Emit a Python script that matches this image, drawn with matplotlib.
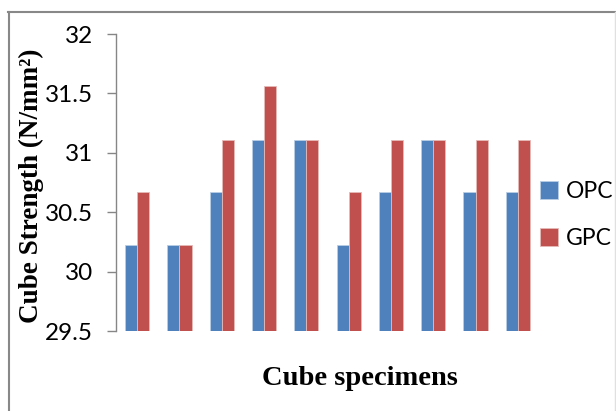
import matplotlib
matplotlib.use("Agg")
import matplotlib.pyplot as plt
from matplotlib.lines import Line2D
import numpy as np

# compressive strength of each cube specimen (N/mm2)
specimens = ["1", "2", "3", "4", "5", "6", "7", "8", "9", "10"]
opc = [30.22, 30.22, 30.67, 31.11, 31.11, 30.22, 30.67, 31.11, 30.67, 30.67]
gpc = [30.67, 30.22, 31.11, 31.56, 31.11, 30.67, 31.11, 31.11, 31.11, 31.11]
y_ticks = [29.5, 30, 30.5, 31, 31.5, 32]
y_tick_labels = ["29.5", "30", "30.5", "31", "31.5", "32"]

blue = "#4F81BD"
red = "#C0504D"

fig = plt.figure(figsize=(6.16, 4.11), dpi=100)
ax = fig.add_axes([116 / 616, 80 / 411, 423 / 616, 297 / 411])

x = np.arange(len(specimens))
w = 1 / 3.5  # excel style gap width 150%
ax.bar(x - w / 2, opc, width=w, color=blue, edgecolor="#B9CDE5", linewidth=0.6, label="OPC")
ax.bar(x + w / 2, gpc, width=w, color=red, edgecolor="#E6B9B8", linewidth=0.6, label="GPC")

ax.set_xlim(-0.5, len(specimens) - 0.5)
ax.set_ylim(29.5, 32)
ax.set_yticks(y_ticks)
ax.set_yticklabels(y_tick_labels, fontfamily="Lato", fontsize=17.5)
ax.set_xticks([])

for s in ["top", "right", "bottom"]:
    ax.spines[s].set_visible(False)
ax.spines["left"].set_color("#868686")
ax.spines["left"].set_linewidth(1.0)
ax.tick_params(axis="y", direction="out", length=6.5, width=1.0, color="#868686", pad=10)

ax.set_xlabel("Cube specimens", fontfamily="Liberation Serif", fontweight="bold", fontsize=20.5)
ax.xaxis.set_label_coords((360 - 116) / 423, -35 / 297)
ax.set_ylabel("Cube Strength (N/mm²)", fontfamily="Liberation Serif", fontweight="bold", fontsize=19.5)
ax.yaxis.set_label_coords(-72 / 423, 0.49)

leg = ax.legend(loc="center left", bbox_to_anchor=(540 / 616, 1 - 215 / 411),
                bbox_transform=fig.transFigure, frameon=False, borderpad=0, borderaxespad=0,
                prop={"family": "Lato", "size": 16.5}, handlelength=0.8, handleheight=0.8,
                handletextpad=0.35, labelspacing=1.15)

# chart border (grey top/left, faint right)
fig.add_artist(Line2D([8 / 616, 615 / 616], [1 - 12.5 / 411, 1 - 12.5 / 411], color="#888888", linewidth=1.5))
fig.add_artist(Line2D([8.5 / 616, 8.5 / 616], [0, 1 - 12 / 411], color="#888888", linewidth=1.5))
fig.add_artist(Line2D([615 / 616, 615 / 616], [0, 1 - 12 / 411], color="#E0E0E0", linewidth=1.0))

fig.savefig("out.png", dpi=100)
